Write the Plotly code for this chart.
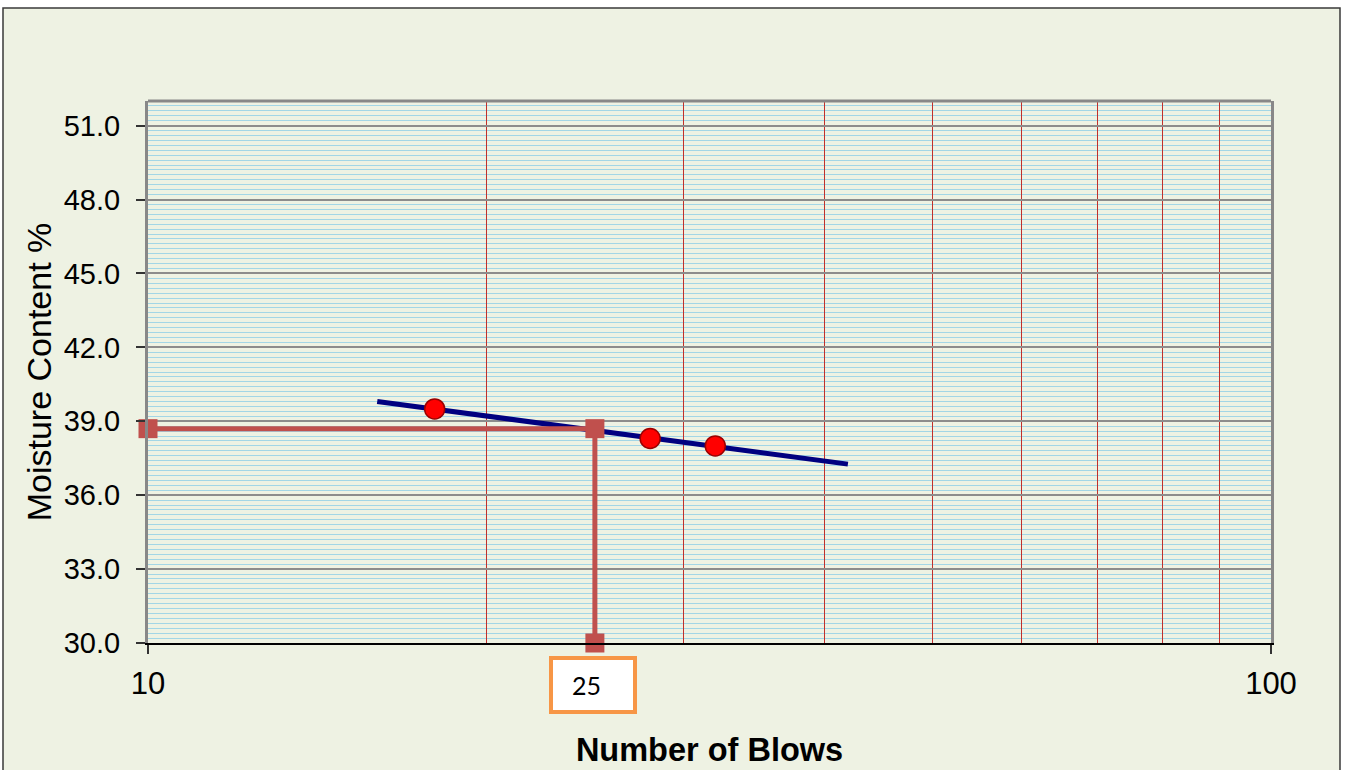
import numpy as np
import plotly.graph_objects as go

# Liquid limit test: moisture content vs number of blows
blows = [18, 28, 32]
moisture = [39.5, 38.3, 38.0]

# extent of the flow curve along the blows axis
trend_blows = [16, 42]

# reading of the liquid limit at 25 blows
ll_blows = 25
ll_moisture = 38.7

x_grid_vals = [10, 20, 30, 40, 50, 60, 70, 80, 90, 100]
x_grid_text = ["10", "", "", "", "", "", "", "", "", "100"]
y_tick_vals = [30, 33, 36, 39, 42, 45, 48, 51]

FONT = "Liberation Sans, Arial, sans-serif"
BG = "#eef2e3"

# semi-log fit of the flow curve: w = a + b*ln(N)
b, a = np.polyfit(np.log(blows), moisture, 1)
tx = np.array(trend_blows, dtype=float)
ty = a + b * np.log(tx)

fig = go.Figure()

fig.add_trace(go.Scatter(
    x=tx, y=ty, mode="lines",
    line=dict(color="#000080", width=5),
    showlegend=False, hoverinfo="skip",
))

fig.add_trace(go.Scatter(
    x=[10, ll_blows, ll_blows], y=[ll_moisture, ll_moisture, 30],
    mode="lines+markers",
    line=dict(color="#c0504d", width=5),
    marker=dict(symbol="square", size=19, color="#c0504d"),
    cliponaxis=False, showlegend=False,
))

fig.add_trace(go.Scatter(
    x=blows, y=moisture, mode="markers",
    marker=dict(size=20, color="#ff0000", line=dict(color="#9a0000", width=1.5)),
    showlegend=False,
))

L, R, T, B = 148, 74, 101, 127
W, H = 1345, 770
pw, ph = W - L - R, H - T - B


def px_x(px):
    return (px - L) / pw


def px_y(py):
    return (H - B - py) / ph


shapes = [
    # outer chart area
    dict(type="rect", xref="paper", yref="paper",
         x0=px_x(3), x1=px_x(1340), y0=px_y(8), y1=px_y(800),
         fillcolor=BG, line=dict(color="#3a3a3a", width=1.5), layer="below"),
    # top border of the plot area
    dict(type="line", xref="paper", yref="paper", x0=0, x1=1, y0=1, y1=1,
         line=dict(color="#888888", width=3)),
]

fig.update_layout(
    width=W, height=H,
    margin=dict(l=L, r=R, t=T, b=B),
    paper_bgcolor="white",
    plot_bgcolor="white",
    shapes=shapes,
    font=dict(family=FONT, color="black"),
    xaxis=dict(
        type="log", range=[1, 2], automargin=False,
        tickvals=x_grid_vals, ticktext=x_grid_text,
        ticks="", tickfont=dict(size=31), ticklabelstandoff=12,
        showgrid=True, gridcolor="#c0302c", gridwidth=1,
        showline=True, linecolor="black", linewidth=2,
        minor=dict(tickvals=[10, 100], ticks="outside", ticklen=9,
                   tickcolor="#333333", tickwidth=1.5, showgrid=False),
        title=dict(text="<b>Number of Blows</b>", font=dict(size=32.5), standoff=38),
        zeroline=False,
    ),
    yaxis=dict(
        range=[30, 52], automargin=False,
        tickvals=y_tick_vals, tickformat=".1f",
        ticks="outside", ticklen=9, tickcolor="#333333", tickwidth=1.5,
        tickfont=dict(size=29), ticklabelstandoff=10,
        showgrid=True, gridcolor="#8c8c8c", gridwidth=2,
        showline=True, linecolor="#888888", linewidth=3, mirror=True,
        minor=dict(dtick=0.2, showgrid=True, gridcolor="#a3d6e6", gridwidth=1),
        title=dict(text="Moisture Content %", font=dict(size=34), standoff=2),
        zeroline=False,
    ),
    annotations=[
        dict(x=np.log10(ll_blows), y=px_y(685), xref="x", yref="paper",
             yanchor="middle", xanchor="center",
             text="25&nbsp;&nbsp;", showarrow=False,
             font=dict(family="Lato, sans-serif", size=25, color="black"),
             bgcolor="white", bordercolor="#f79646", borderwidth=4,
             borderpad=0, width=80, height=50, xshift=-2),
    ],
)

fig.write_html("out.html")
